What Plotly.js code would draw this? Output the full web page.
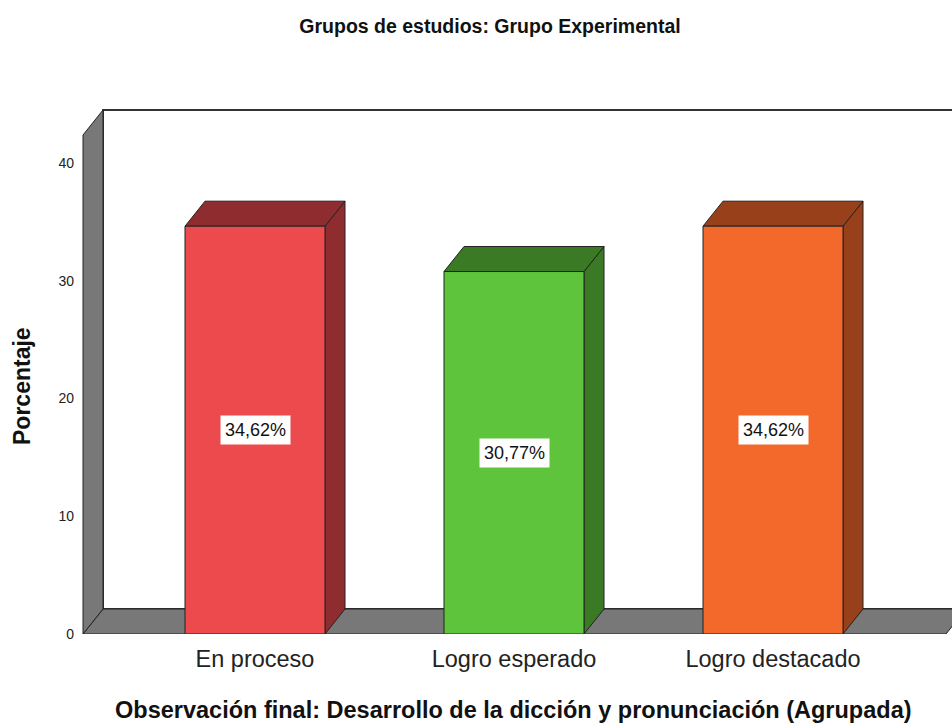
<!DOCTYPE html>
<html>
<head>
<meta charset="utf-8">
<script src="https://cdn.plot.ly/plotly-3.0.1.min.js"></script>
<style>html,body{margin:0;padding:0;background:#fff;}#chart{width:952px;height:723px;}</style>
</head>
<body>
<div id="chart"></div>
<script>
// ---- data ----
const categories = ["En proceso", "Logro esperado", "Logro destacado"];
const percentages = [34.62, 30.77, 34.62];
const frontColors = ["#EC4A4C", "#5EC43B", "#F2692B"];
const sideColors = ["#8E2C2F", "#3A7A25", "#984019"];
const yTicks = [0, 10, 20, 30, 40];

// ---- geometry (in axis units) ----
const xs = categories.map((c, i) => i);
const barW = 140 / 259;
const dx = 20 / 259;          // depth offset (x)
const ky = 11.78;             // px per y unit
const dy = 25 / ky;           // depth offset (y)
const xMin = -(255 - 80) / 259, xMax = 2 + (952 - 773) / 259;
const yMax = (634 - 107) / ky;
const wallX = (83 - 255) / 259;
const wallTop = (634 - 135) / ky;
const floorEnd = 2 + (946 - 773) / 259;
const edge = {color: "#222", width: 1};
const FONT = "Liberation Sans, Arial, sans-serif";

function poly(pts) { return "M" + pts.map(p => p[0] + "," + p[1]).join("L") + "Z"; }

const shapes = [];
// back wall
shapes.push({type: "path", xref: "x", yref: "y", layer: "below",
  path: poly([[wallX + dx, dy], [wallX + dx, wallTop + dy], [xMax + 1, wallTop + dy], [xMax + 1, dy]]),
  fillcolor: "#ffffff", line: {color: "#333", width: 2}});
// floor
shapes.push({type: "path", xref: "x", yref: "y", layer: "below",
  path: poly([[wallX, 0], [floorEnd, 0], [floorEnd + dx, dy], [wallX + dx, dy]]),
  fillcolor: "#787878", line: edge});
// left wall
shapes.push({type: "path", xref: "x", yref: "y", layer: "below",
  path: poly([[wallX, 0], [wallX, wallTop], [wallX + dx, wallTop + dy], [wallX + dx, dy]]),
  fillcolor: "#787878", line: edge});
// bar tops and sides
xs.forEach((x, i) => {
  const v = percentages[i], l = x - barW / 2, r = x + barW / 2;
  shapes.push({type: "path", xref: "x", yref: "y", layer: "below",
    path: poly([[r, 0], [r, v], [r + dx, v + dy], [r + dx, dy]]),
    fillcolor: sideColors[i], line: edge});
  shapes.push({type: "path", xref: "x", yref: "y", layer: "below",
    path: poly([[l, v], [r, v], [r + dx, v + dy], [l + dx, v + dy]]),
    fillcolor: sideColors[i], line: edge});
});

const annotations = xs.map((x, i) => ({
  x: x, y: percentages[i] / 2, xref: "x", yref: "y",
  text: percentages[i].toFixed(2).replace(".", ",") + "%",
  showarrow: false, bgcolor: "#ffffff", borderpad: 4,
  font: {family: FONT, size: 18, color: "#111"}
}));
annotations.push({
  xref: "paper", yref: "paper", x: (22 - 80) / 872, xanchor: "center",
  y: (634 - 386) / 527, yanchor: "middle",
  text: "<b>Porcentaje</b>", textangle: -90, showarrow: false,
  font: {family: FONT, size: 23, color: "#111"}
});
annotations.push({
  xref: "paper", yref: "paper", x: (513 - 80) / 872, xanchor: "center",
  y: (634 - 710) / 527, yanchor: "middle",
  text: "<b>Observación final: Desarrollo de la dicción y pronunciación (Agrupada)</b>",
  showarrow: false, font: {family: FONT, size: 23.5, color: "#111"}
});

const trace = {
  type: "bar", x: xs, y: percentages, width: barW,
  marker: {color: frontColors, line: {color: "#222", width: 1}},
  hoverinfo: "skip"
};

const layout = {
  width: 952, height: 723,
  margin: {l: 80, r: 0, t: 107, b: 89},
  paper_bgcolor: "#fff", plot_bgcolor: "rgba(0,0,0,0)",
  showlegend: false,
  title: {text: "<b>Grupos de estudios: Grupo Experimental</b>",
    font: {family: FONT, size: 19.5, color: "#111"},
    x: 490 / 952, xanchor: "center", y: 1 - 26 / 723, yanchor: "middle"},
  xaxis: {range: [xMin, xMax], tickvals: xs, ticktext: categories, showgrid: false,
    zeroline: false, showline: false, ticks: "", ticklabelstandoff: 8,
    tickfont: {family: FONT, size: 23.5, color: "#222"}},
  yaxis: {range: [0, yMax], tickvals: yTicks, showgrid: false, zeroline: false,
    showline: false, ticks: "", ticklabelstandoff: 5,
    tickfont: {family: FONT, size: 14, color: "#222"}},
  shapes: shapes,
  annotations: annotations
};

Plotly.newPlot("chart", [trace], layout, {displayModeBar: false, staticPlot: true});
</script>
</body>
</html>
